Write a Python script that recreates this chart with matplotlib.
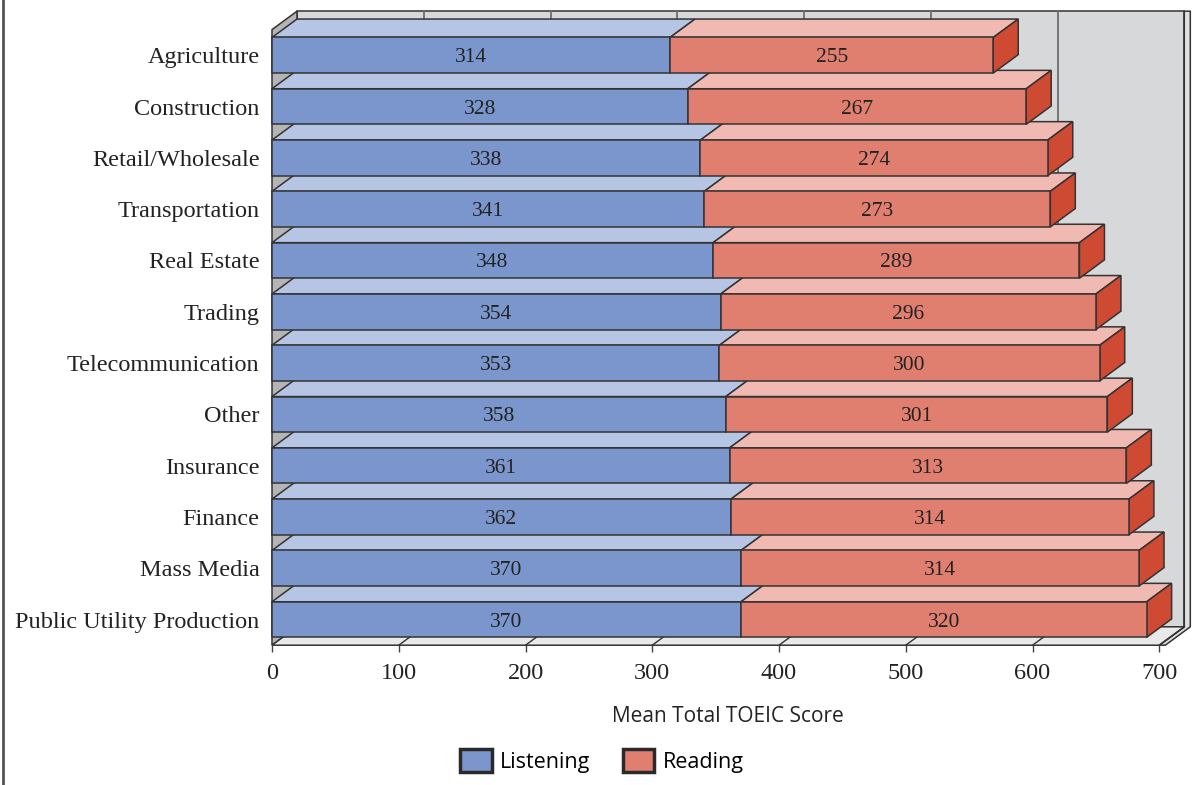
import matplotlib
matplotlib.use("Agg")
import matplotlib.pyplot as plt
from matplotlib.patches import Polygon, Patch
from matplotlib.lines import Line2D

# Mean TOEIC section scores by industry
industries = ["Agriculture", "Construction", "Retail/Wholesale", "Transportation",
              "Real Estate", "Trading", "Telecommunication", "Other", "Insurance",
              "Finance", "Mass Media", "Public Utility Production"]
listening = [314, 328, 338, 341, 348, 354, 353, 358, 361, 362, 370, 370]
reading = [255, 267, 274, 273, 289, 296, 300, 301, 313, 314, 314, 320]
x_ticks = [0, 100, 200, 300, 400, 500, 600, 700]
series_names = ["Listening", "Reading"]

W, H = 1198, 785
fig = plt.figure(figsize=(W / 100, H / 100), dpi=100)
# front plane of the 3-D box, in figure pixels
px_left, px_right, px_bottom, px_top = 272, 1159.3, 645.2, 29.6
ax = fig.add_axes([px_left / W, 1 - px_bottom / H,
                   (px_right - px_left) / W, (px_bottom - px_top) / H])
xmax = 700
n = len(industries)
ax.set_xlim(0, xmax)
ax.set_ylim(n - 0.5, -0.5)

# depth of the box expressed in data units
px_per_x = (px_right - px_left) / xmax
px_per_y = (px_bottom - px_top) / n
DX = 25 / px_per_x
DY = 18.4 / px_per_y
T = 6 / px_per_x          # wall thickness
h = 35.6 / px_per_y        # bar face height

edge = "#333333"
c_wall, c_floor, c_lwall = "#d7d8da", "#e9e9ea", "#b5b5b5"
blue_front, blue_top = "#7b96cc", "#b6c5e3"
red_front, red_top, red_side = "#e07f70", "#f0b9b1", "#cf4a33"

y_bot, y_top = n - 0.5, -0.5


def poly(pts, fc, z, lw=1.1, ec=edge):
    ax.add_patch(Polygon(pts, closed=True, facecolor=fc, edgecolor=ec,
                         linewidth=lw, zorder=z, clip_on=False,
                         joinstyle="miter"))


# back wall, wall thickness, left wall, floor
poly([(DX, y_bot - DY), (xmax + DX, y_bot - DY), (xmax + DX, y_top - DY),
      (DX, y_top - DY)], c_wall, 1)
poly([(xmax, y_bot), (xmax + T, y_bot), (xmax + DX + T, y_bot - DY),
      (xmax + DX + T, y_top - DY), (xmax + DX, y_top - DY),
      (xmax + DX, y_bot - DY)], "#dfe0e1", 1)
poly([(0, y_bot), (DX, y_bot - DY), (DX, y_top - DY), (0, y_top)], c_lwall, 1)
poly([(0, y_bot), (xmax, y_bot), (xmax + DX, y_bot - DY), (DX, y_bot - DY)],
     c_floor, 1.5)

# gridlines on wall and floor
for v in x_ticks[1:-1]:
    ax.plot([v + DX, v + DX], [y_bot - DY, y_top - DY], color="#6e6e6e",
            lw=1.3, zorder=1.2, clip_on=False)
for v in x_ticks[1:]:
    ax.plot([v, v + DX], [y_bot, y_bot - DY], color=edge, lw=1.0,
            zorder=1.6, clip_on=False)

# bars, drawn from the bottom row up so upper rows overlap lower tops
lbl = dict(ha="center", va="center", fontsize=15.5, family="Liberation Serif",
           color="#222222", textcoords="offset points", xytext=(0, -1.8))
for i in range(n - 1, -1, -1):
    z = 2 + (n - i) * 0.1
    l, r = listening[i], reading[i]
    yt, yb = i - h / 2, i + h / 2
    end = l + r
    # top faces
    poly([(0, yt), (l, yt), (l + DX, yt - DY), (DX, yt - DY)], blue_top, z)
    poly([(l, yt), (end, yt), (end + DX, yt - DY), (l + DX, yt - DY)], red_top, z)
    # right side face
    poly([(end, yt), (end + DX, yt - DY), (end + DX, yb - DY), (end, yb)],
         red_side, z)
    # front faces
    poly([(0, yt), (l, yt), (l, yb), (0, yb)], blue_front, z + 0.01)
    poly([(l, yt), (end, yt), (end, yb), (l, yb)], red_front, z + 0.01)
    ax.annotate(f"{l}", (l / 2, i), zorder=z + 0.02, **lbl)
    ax.annotate(f"{r}", (l + r / 2, i), zorder=z + 0.02, **lbl)

for s in ax.spines.values():
    s.set_visible(False)
ax.set_facecolor("none")

ax.set_yticks(range(n))
ax.set_yticklabels(industries, family="Liberation Serif", fontsize=17.5,
                   color="#222222")
for t in ax.get_yticklabels():
    t.set_va("center_baseline")
ax.tick_params(axis="y", length=0, pad=9)
ax.set_xticks(x_ticks)
ax.set_xticklabels([str(v) for v in x_ticks], family="Liberation Serif",
                   fontsize=17.5, color="#222222")
ax.tick_params(axis="x", length=5, width=1.0, color="#444444", pad=8)

fig.text((px_left + px_right + 25) / 2 / W, 1 - 717 / H,
         "Mean Total TOEIC Score", ha="center", va="center",
         family="Open Sans", fontsize=15, color="#222222")

handles = [Patch(facecolor=blue_front, edgecolor="#2a2a2a", linewidth=2.5),
           Patch(facecolor=red_front, edgecolor="#2a2a2a", linewidth=2.5)]
fig.legend(handles, series_names, loc="center", ncol=2, frameon=False,
           bbox_to_anchor=(602 / W, 1 - 761 / H),
           prop={"family": "Open Sans", "size": 15.5},
           handlelength=1.45, handleheight=1.3, handletextpad=0.4,
           columnspacing=1.5)

# outer frame line on the left edge
fig.add_artist(Line2D([3 / W, 3 / W], [0, 1], color="#555555", lw=2,
                      transform=fig.transFigure))

fig.savefig("out.png", dpi=100)
